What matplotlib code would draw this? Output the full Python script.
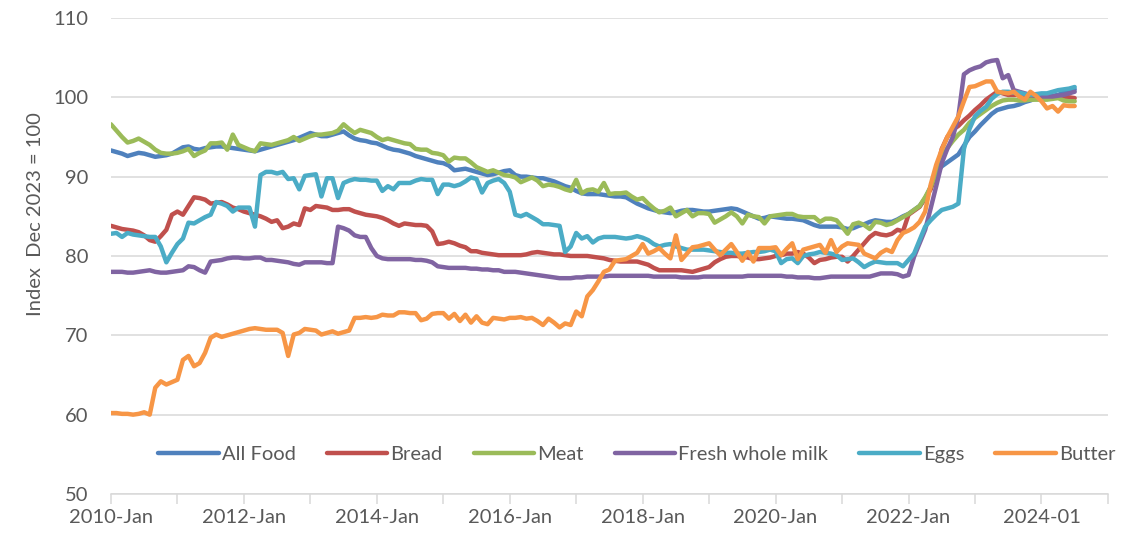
import matplotlib
matplotlib.use("Agg")
import matplotlib.pyplot as plt
from matplotlib.ticker import MultipleLocator, FuncFormatter

plt.rcParams['font.family'] = ['Lato', 'DejaVu Sans']

# monthly index values, Jan 2010 .. Jul 2024 (Dec 2023 = 100)
all_food = [
    93.3, 93.1, 92.9, 92.6, 92.8, 93.0, 92.9, 92.7, 92.5, 92.6, 92.7, 92.9,
    93.3, 93.7, 93.8, 93.5, 93.4, 93.6, 93.7, 93.8, 93.8, 93.7, 93.6, 93.5,
    93.4, 93.3, 93.2, 93.4, 93.6, 93.8, 94.0, 94.2, 94.4, 94.6, 94.9, 95.2,
    95.5, 95.3, 95.1, 95.1, 95.3, 95.5, 95.7, 95.2, 94.8, 94.6, 94.5, 94.3,
    94.2, 93.9, 93.6, 93.4, 93.3, 93.1, 92.9, 92.6, 92.4, 92.2, 92.0, 91.8,
    91.7, 91.4, 90.8, 90.9, 91.0, 90.8, 90.6, 90.4, 90.2, 90.3, 90.5, 90.7,
    90.8, 90.2, 90.0, 90.0, 89.9, 89.8, 89.8, 89.6, 89.4, 89.1, 88.8, 88.6,
    88.2, 87.9, 87.8, 87.8, 87.8, 87.7, 87.6, 87.5, 87.5, 87.4, 87.0, 86.6,
    86.3, 86.0, 85.8, 85.6, 85.5, 85.4, 85.5, 85.7, 85.8, 85.8, 85.7, 85.6,
    85.6, 85.7, 85.8, 85.9, 86.0, 85.9, 85.6, 85.3, 85.0, 84.7, 84.8, 85.0,
    84.9, 84.8, 84.7, 84.7, 84.6, 84.5, 84.2, 83.9, 83.7, 83.7, 83.7, 83.7,
    83.6, 83.4, 83.5, 83.8, 84.0, 84.3, 84.5, 84.4, 84.3, 84.3, 84.6, 85.0,
    85.3, 85.8, 86.3, 87.2, 88.7, 90.5, 91.3, 91.8, 92.3, 92.8, 93.9, 95.0,
    95.7, 96.5, 97.2, 97.9, 98.4, 98.6, 98.8, 98.9, 99.1, 99.4, 99.6, 99.9,
    100.0, 100.1, 100.2, 100.3, 100.6, 100.8, 101.0,
]

bread = [
    83.8, 83.6, 83.4, 83.3, 83.2, 83.0, 82.6, 82.0, 81.8, 82.5, 83.3, 85.2,
    85.6, 85.2, 86.3, 87.4, 87.3, 87.1, 86.6, 86.7, 86.8, 86.5, 86.1, 85.9,
    85.6, 85.4, 85.2, 85.0, 84.7, 84.3, 84.5, 83.5, 83.7, 84.1, 83.9, 86.0,
    85.8, 86.3, 86.2, 86.1, 85.8, 85.8, 85.9, 85.9, 85.6, 85.4, 85.2, 85.1,
    85.0, 84.8, 84.5, 84.1, 83.8, 84.1, 84.0, 83.9, 83.9, 83.8, 83.1, 81.5,
    81.6, 81.8, 81.6, 81.3, 81.1, 80.6, 80.6, 80.4, 80.3, 80.2, 80.1, 80.1,
    80.1, 80.1, 80.1, 80.2, 80.4, 80.5, 80.4, 80.3, 80.2, 80.2, 80.1, 80.0,
    80.0, 80.0, 80.0, 79.9, 79.8, 79.7, 79.5, 79.4, 79.3, 79.3, 79.3, 79.3,
    79.1, 78.9, 78.5, 78.2, 78.2, 78.2, 78.2, 78.2, 78.1, 78.0, 78.2, 78.4,
    78.6, 79.2, 79.6, 79.9, 80.0, 80.0, 79.9, 79.8, 79.6, 79.6, 79.7, 79.8,
    80.0, 80.1, 80.3, 80.3, 80.5, 80.3, 79.8, 79.1, 79.5, 79.6, 79.8, 79.9,
    79.9, 79.3, 80.0, 80.8, 81.6, 82.4, 82.9, 82.7, 82.6, 82.8, 83.3, 83.1,
    85.2, 85.7, 86.2, 87.3, 88.4, 90.4, 93.5, 95.0, 95.9, 96.4, 97.1, 97.7,
    98.4, 99.0, 99.7, 100.2, 100.7, 100.5, 100.3, 100.3, 100.3, 100.2, 100.1, 100.0,
    99.9, 99.9, 100.0, 100.1, 100.1, 100.0, 99.9,
]

meat = [
    96.6, 95.8, 95.0, 94.3, 94.5, 94.8, 94.4, 94.0, 93.4, 93.0, 92.9, 92.9,
    93.0, 93.2, 93.5, 92.6, 93.0, 93.3, 94.2, 94.2, 94.3, 93.4, 95.3, 94.0,
    93.7, 93.4, 93.2, 94.2, 94.1, 94.0, 94.2, 94.4, 94.6, 95.0, 94.5, 94.8,
    95.1, 95.3, 95.3, 95.4, 95.5, 95.8, 96.6, 96.0, 95.5, 95.9, 95.7, 95.5,
    95.0, 94.6, 94.8, 94.6, 94.4, 94.2, 94.1, 93.5, 93.4, 93.4, 93.0, 92.9,
    92.7, 91.9, 92.4, 92.3, 92.3, 91.8, 91.2, 90.9, 90.6, 90.8, 90.5, 90.2,
    90.1, 89.9, 89.3, 89.6, 89.9, 89.5, 88.8, 89.0, 88.9, 88.7, 88.4, 88.2,
    89.6, 87.9, 88.3, 88.4, 88.1, 89.2, 87.8, 87.9, 87.9, 88.0, 87.5, 87.1,
    87.3, 86.6, 86.0, 85.5, 85.7, 86.1, 85.0, 85.4, 85.8, 85.0, 85.4, 85.4,
    85.3, 84.2, 84.6, 85.0, 85.5, 85.0, 84.1, 85.2, 85.0, 84.9, 84.1, 85.0,
    85.1, 85.2, 85.3, 85.3, 85.0, 84.9, 84.9, 84.9, 84.3, 84.7, 84.7, 84.5,
    83.7, 82.8, 84.0, 84.2, 83.9, 83.4, 84.3, 84.2, 83.9, 84.1, 84.5, 84.9,
    85.3, 85.8, 86.3, 87.4, 88.7, 90.5, 92.3, 93.6, 94.5, 95.3, 95.9, 96.8,
    97.4, 97.9, 98.4, 98.9, 99.3, 99.6, 99.7, 99.7, 99.6, 99.6, 99.7, 99.7,
    99.7, 99.7, 99.8, 99.9, 99.6, 99.5, 99.5,
]

milk = [
    78.0, 78.0, 78.0, 77.9, 77.9, 78.0, 78.1, 78.2, 78.0, 77.9, 77.9, 78.0,
    78.1, 78.2, 78.7, 78.6, 78.2, 77.9, 79.3, 79.4, 79.5, 79.7, 79.8, 79.8,
    79.7, 79.7, 79.8, 79.8, 79.5, 79.5, 79.4, 79.3, 79.2, 79.0, 78.9, 79.2,
    79.2, 79.2, 79.2, 79.1, 79.1, 83.7, 83.5, 83.2, 82.6, 82.4, 82.4, 81.0,
    80.0, 79.7, 79.6, 79.6, 79.6, 79.6, 79.6, 79.5, 79.5, 79.4, 79.2, 78.7,
    78.6, 78.5, 78.5, 78.5, 78.5, 78.4, 78.4, 78.3, 78.3, 78.2, 78.2, 78.0,
    78.0, 78.0, 77.9, 77.8, 77.7, 77.6, 77.5, 77.4, 77.3, 77.2, 77.2, 77.2,
    77.3, 77.3, 77.4, 77.4, 77.4, 77.4, 77.5, 77.5, 77.5, 77.5, 77.5, 77.5,
    77.5, 77.5, 77.4, 77.4, 77.4, 77.4, 77.4, 77.3, 77.3, 77.3, 77.3, 77.4,
    77.4, 77.4, 77.4, 77.4, 77.4, 77.4, 77.4, 77.5, 77.5, 77.5, 77.5, 77.5,
    77.5, 77.5, 77.4, 77.4, 77.3, 77.3, 77.3, 77.2, 77.2, 77.3, 77.4, 77.4,
    77.4, 77.4, 77.4, 77.4, 77.4, 77.4, 77.6, 77.8, 77.8, 77.8, 77.7, 77.4,
    77.6, 79.9, 81.6, 83.3, 86.0, 88.8, 91.7, 93.5, 95.0, 97.6, 102.9, 103.4,
    103.7, 103.9, 104.4, 104.6, 104.7, 102.4, 102.8, 100.9, 100.7, 100.5, 100.3, 100.2,
    100.1, 100.1, 100.1, 100.2, 100.3, 100.5, 100.7,
]

eggs = [
    82.8, 82.9, 82.4, 82.9, 82.7, 82.6, 82.5, 82.4, 82.4, 81.2, 79.2, 80.4,
    81.5, 82.2, 84.2, 84.1, 84.5, 84.9, 85.2, 86.8, 86.6, 86.3, 85.6, 86.1,
    86.1, 86.1, 83.7, 90.2, 90.6, 90.6, 90.4, 90.6, 89.7, 89.8, 88.4, 90.1,
    90.2, 90.3, 87.5, 89.8, 89.8, 87.3, 89.2, 89.5, 89.7, 89.6, 89.6, 89.5,
    89.5, 88.2, 88.8, 88.4, 89.2, 89.2, 89.2, 89.5, 89.7, 89.6, 89.6, 87.8,
    89.0, 89.0, 88.8, 89.0, 89.4, 89.9, 89.7, 88.0, 89.2, 89.5, 89.7, 89.2,
    88.1, 85.2, 85.0, 85.3, 84.9, 84.5, 84.0, 84.0, 83.9, 83.8, 80.5, 81.2,
    82.9, 82.2, 82.5, 81.7, 82.2, 82.4, 82.4, 82.4, 82.3, 82.2, 82.3, 82.5,
    82.3, 82.0, 81.5, 81.2, 81.4, 81.5, 81.2, 81.0, 80.8, 80.8, 80.8, 80.8,
    80.7, 80.6, 80.5, 80.4, 80.4, 80.3, 80.3, 80.4, 80.5, 80.5, 80.6, 80.8,
    80.6, 79.1, 79.6, 79.7, 79.1, 80.0, 80.2, 80.3, 80.5, 80.4, 80.3, 80.1,
    79.5, 79.6, 79.7, 79.2, 78.6, 79.0, 79.3, 79.2, 79.1, 79.1, 79.1, 78.7,
    79.5, 80.3, 82.0, 83.7, 84.5, 85.2, 85.8, 86.0, 86.2, 86.6, 93.5, 96.0,
    97.6, 98.3, 98.8, 99.8, 100.4, 100.7, 100.7, 100.6, 100.6, 100.4, 100.3, 100.4,
    100.5, 100.5, 100.7, 100.9, 101.0, 101.1, 101.3,
]

butter = [
    60.2, 60.2, 60.1, 60.1, 60.0, 60.1, 60.3, 60.0, 63.4, 64.2, 63.8, 64.1,
    64.4, 66.9, 67.4, 66.1, 66.5, 67.8, 69.7, 70.1, 69.8, 70.0, 70.2, 70.4,
    70.6, 70.8, 70.9, 70.8, 70.7, 70.7, 70.7, 70.3, 67.4, 70.1, 70.3, 70.8,
    70.7, 70.6, 70.1, 70.3, 70.5, 70.2, 70.4, 70.6, 72.2, 72.2, 72.3, 72.2,
    72.3, 72.6, 72.5, 72.5, 72.9, 72.9, 72.8, 72.8, 71.9, 72.1, 72.7, 72.8,
    72.8, 72.1, 72.7, 71.8, 72.6, 71.6, 72.4, 71.6, 71.4, 72.2, 72.1, 72.0,
    72.2, 72.2, 72.3, 72.1, 72.2, 71.8, 71.3, 72.1, 71.6, 71.0, 71.5, 71.3,
    73.0, 72.4, 74.9, 75.7, 76.8, 78.0, 78.3, 79.4, 79.5, 79.6, 80.0, 80.4,
    81.5, 80.3, 80.6, 81.0, 80.3, 79.7, 82.6, 79.5, 80.3, 81.1, 81.2, 81.4,
    81.6, 80.8, 80.1, 80.8, 81.5, 80.5, 79.4, 80.5, 79.3, 81.0, 81.0, 81.0,
    81.1, 80.1, 80.9, 81.6, 79.6, 80.8, 81.0, 81.2, 81.4, 80.4, 82.0, 80.5,
    81.2, 81.6, 81.5, 81.4, 80.3, 80.0, 79.7, 80.4, 80.8, 80.5, 82.0, 82.9,
    83.2, 83.6, 84.3, 85.6, 89.0, 91.5, 93.4, 95.0, 96.3, 97.6, 99.5, 101.3,
    101.4, 101.7, 102.0, 102.0, 100.7, 100.6, 100.5, 100.7, 100.1, 99.7, 100.7, 100.2,
    99.5, 98.6, 98.9, 98.2, 99.0, 98.9, 98.9,
]

series_names = ["All Food", "Bread", "Meat", "Fresh whole milk", "Eggs", "Butter"]
series_colors = ["#4F81BD", "#C0504D", "#9BBB59", "#8064A2", "#4BACC6", "#F79646"]
start_year = 2010

fig = plt.figure(figsize=(11.31, 5.38), dpi=100)
ax = fig.add_axes([0.0981, 0.0818, 0.8815, 0.8848])

months = list(range(len(all_food)))
for vals, name, col in zip([all_food, bread, meat, milk, eggs, butter], series_names, series_colors):
    ax.plot(months, vals, color=col, lw=3.2, label=name, solid_joinstyle='round', solid_capstyle='round')

ax.set_xlim(0, 180)
ax.set_ylim(50, 110)

grey = "#595959"
ax.yaxis.set_major_locator(MultipleLocator(10))
ax.grid(axis='y', color='#D9D9D9', lw=1.1)
ax.set_axisbelow(True)
ax.tick_params(axis='y', length=0, labelsize=14.5, labelcolor=grey, pad=16)

ax.xaxis.set_major_locator(MultipleLocator(12))


def fmt_month(v, pos):
    m = int(round(v))
    if m % 24 != 0 or m > 168:
        return ""
    yr = start_year + m // 12
    if m == 168:
        return f"{yr}-01"
    return f"{yr}-Jan"


ax.xaxis.set_major_formatter(FuncFormatter(fmt_month))
ax.tick_params(axis='x', length=7, width=1.1, color='#D9D9D9', labelsize=14.5, labelcolor=grey, pad=4)

for s in ['left', 'right', 'top']:
    ax.spines[s].set_visible(False)
ax.spines['bottom'].set_color('#D9D9D9')
ax.spines['bottom'].set_linewidth(1.1)

fig.text(0.031, 0.602, "Index  Dec 2023 = 100", rotation=90, ha='center', va='center',
         fontsize=14.5, color=grey)

leg = fig.legend(loc='center', bbox_to_anchor=(0.563, 0.156), ncol=6, frameon=False,
                 fontsize=14.5, handlelength=3.0, handletextpad=0.15, columnspacing=1.55,
                 labelcolor=grey)

fig.savefig("out.png", dpi=100)
